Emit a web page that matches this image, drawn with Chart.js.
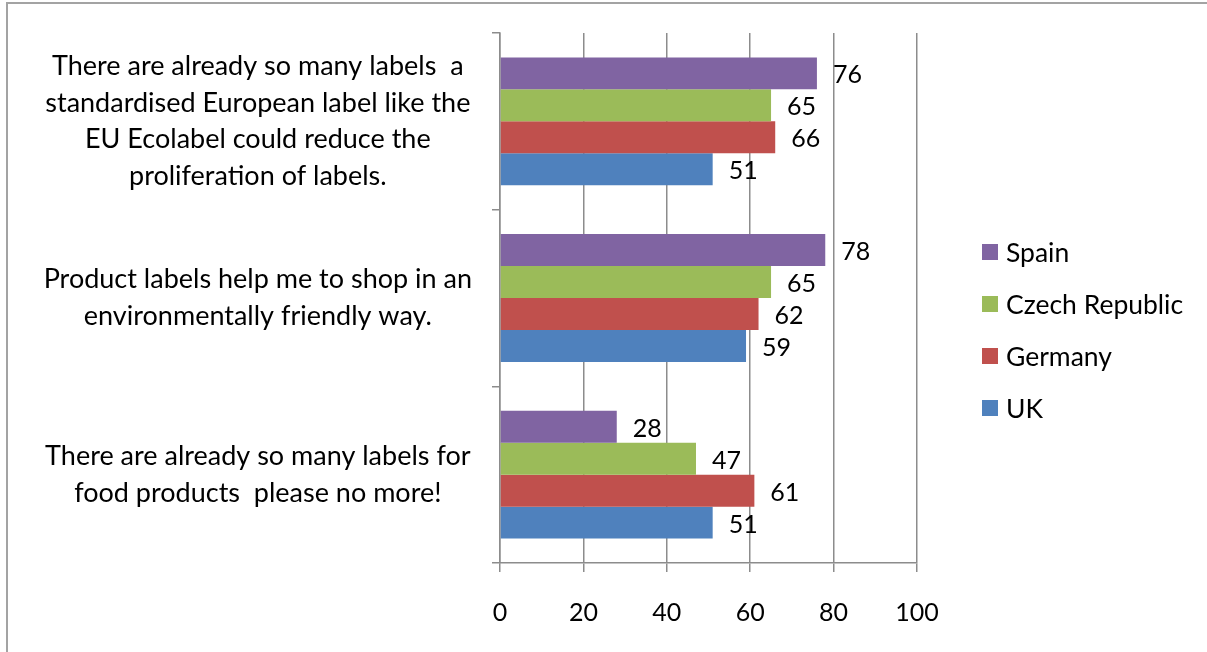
<!DOCTYPE html>
<html>
<head>
<meta charset="utf-8">
<script src="https://cdn.jsdelivr.net/npm/chart.js@4"></script>
<style>
  html, body { margin: 0; padding: 0; background: #fff; overflow: hidden; }
  #frame {
    position: absolute; left: 6px; top: 2px;
    width: 1300px; height: 700px;
    border: 2px solid #a3a3a3;
  }
  #wrap { position: absolute; left: 0; top: 0; width: 1207px; height: 652px; }
</style>
</head>
<body>
<div id="frame"></div>
<div id="wrap"><canvas id="myChart"></canvas></div>
<script>
'use strict'

const statements = [
  ['There are already so many labels  a', 'standardised European label like the', 'EU Ecolabel could reduce the', 'proliferation of labels.'],
  ['Product labels help me to shop in an', 'environmentally friendly way.'],
  ['There are already so many labels for', 'food products  please no more!'],
];

const countries = ['Spain', 'Czech Republic', 'Germany', 'UK'];
const spain = [76, 78, 28];
const czech = [65, 65, 47];
const germany = [66, 62, 61];
const uk = [51, 59, 51];
const colours = ['#8064A2', '#9BBB59', '#C0504D', '#4F81BD'];

const FONT = 'Lato';
const gridColour = '#8c8c8c';

// numbers to the right of each bar
const valueLabels = {
  id: 'valueLabels',
  afterDatasetsDraw(chart) {
    const ctx = chart.ctx;
    ctx.save();
    ctx.font = `25px ${FONT}`;
    ctx.fillStyle = '#000';
    ctx.textAlign = 'left';
    ctx.textBaseline = 'middle';
    chart.data.datasets.forEach((ds, i) => {
      chart.getDatasetMeta(i).data.forEach((bar, j) => {
        ctx.fillText(ds.data[j], bar.x + 16, bar.y + 2);
      });
    });
    ctx.restore();
  }
};

// legend on the right, drawn by hand so it can sit away from the plot
const sideLegend = {
  id: 'sideLegend',
  afterDraw(chart) {
    const ctx = chart.ctx;
    const x = 982, box = 16, step = 52;
    const n = chart.data.datasets.length;
    const y0 = 330 - step * (n - 1) / 2;
    ctx.save();
    ctx.font = `26.5px ${FONT}`;
    ctx.textAlign = 'left';
    ctx.textBaseline = 'middle';
    chart.data.datasets.forEach((ds, i) => {
      const y = y0 + i * step;
      ctx.fillStyle = ds.backgroundColor;
      ctx.fillRect(x, y - box / 2, box, box);
      ctx.fillStyle = '#000';
      ctx.fillText(ds.label, x + 24, y + 1);
    });
    ctx.restore();
  }
};

const data = {
  labels: statements,
  datasets: [
    { label: countries[0], data: spain, backgroundColor: colours[0] },
    { label: countries[1], data: czech, backgroundColor: colours[1] },
    { label: countries[2], data: germany, backgroundColor: colours[2] },
    { label: countries[3], data: uk, backgroundColor: colours[3] },
  ],
};

const config = {
  type: 'bar',
  data: data,
  options: {
    indexAxis: 'y',
    responsive: true,
    maintainAspectRatio: false,
    animation: false,
    categoryPercentage: 0.724,
    barPercentage: 1,
    layout: { padding: { top: 33, right: 290, bottom: -2, left: 0 } },
    plugins: {
      legend: { display: false },
      tooltip: { enabled: false },
    },
    scales: {
      x: {
        min: 0,
        max: 100,
        ticks: { stepSize: 20, color: '#000', font: { family: FONT, size: 25 }, padding: 26 },
        grid: { color: gridColour, lineWidth: 1.5, tickLength: 9 },
        border: { color: gridColour, width: 1.5 },
      },
      y: {
        afterFit(scale) {
          scale.width = 500;
          scale.paddingTop = 0;
          scale.paddingBottom = 0;
        },
        ticks: {
          color: '#000',
          crossAlign: 'center',
          padding: 20,
          font: { family: FONT, size: 27, lineHeight: 1.35 },
        },
        grid: { drawOnChartArea: false, color: gridColour, lineWidth: 1.5, tickLength: 8 },
        border: { color: gridColour, width: 1.5 },
      },
    },
  },
  plugins: [valueLabels, sideLegend],
};

const myChart = new Chart(document.getElementById('myChart'), config);
</script>
</body>
</html>
